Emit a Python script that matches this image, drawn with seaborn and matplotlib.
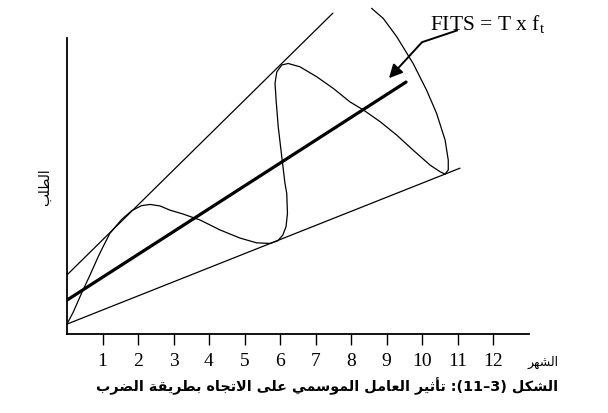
import re
import pandas as pd
import matplotlib
matplotlib.use("Agg")
import matplotlib.pyplot as plt
import seaborn as sns

# months on the x axis
months = list(range(1, 13))

# straight lines: (month, demand) at both ends
upper_x = [0.0, 7.49]
upper_y = [19.7, 107.0]
lower_x = [0.0, 11.07]
lower_y = [3.3, 55.3]
trend_x = [0.0, 9.55]
trend_y = [11.3, 84.0]

# seasonal (multiplicative) curve, hand-drawn in the original
wave_x = [0.00, 0.18, 0.41, 0.65, 0.88, 1.02, 1.21, 1.54, 1.82, 2.10, 2.34, 2.62, 2.90,
          3.27, 3.75, 4.31, 4.87, 5.34, 5.72, 5.94, 6.08, 6.17, 6.21, 6.19, 6.14,
          6.05, 5.95, 5.89, 5.86, 5.91, 6.05, 6.23, 6.56, 7.03, 7.50, 7.97, 8.35,
          8.82, 9.29, 9.75, 10.23, 10.51, 10.65, 10.74, 10.74, 10.65, 10.41, 10.13,
          9.75, 9.29, 8.91, 8.58]
wave_y = [3.3, 7.4, 13.6, 19.7, 25.8, 29.2, 33.6, 38.2, 41.1, 42.8, 43.2, 42.7, 41.3,
          40.0, 38.0, 34.7, 32.0, 30.4, 30.2, 31.1, 33.0, 35.8, 40.2, 46.9, 50.2,
          59.1, 69.1, 78.0, 83.6, 87.4, 89.7, 90.2, 89.1, 85.8, 81.9, 77.4, 74.7,
          70.8, 66.3, 61.3, 56.3, 54.1, 53.3, 54.7, 58.0, 64.7, 73.6, 81.3,
          90.2, 99.1, 105.2, 108.6]

# annotation arrow: text end -> bend -> tip
arrow_x = [11.01, 10.00, 9.07]
arrow_y = [101.3, 97.3, 85.3]

fits_label = r"FITS = T x f$_{\mathregular{t}}$"
x_title = "الشهر"
y_title = "الطلب"
caption = "الشكل (3–11): تأثير العامل الموسمي على الاتجاه بطريقة الضرب"

# --- minimal Arabic shaping (matplotlib has no complex text layout) ---
FORMS = {
    'ا': (0xFE8D, 0xFE8E, None, None), 'أ': (0xFE83, 0xFE84, None, None),
    'ب': (0xFE8F, 0xFE90, 0xFE91, 0xFE92), 'ة': (0xFE93, 0xFE94, None, None),
    'ت': (0xFE95, 0xFE96, 0xFE97, 0xFE98), 'ث': (0xFE99, 0xFE9A, 0xFE9B, 0xFE9C),
    'ج': (0xFE9D, 0xFE9E, 0xFE9F, 0xFEA0), 'د': (0xFEA9, 0xFEAA, None, None),
    'ر': (0xFEAD, 0xFEAE, None, None), 'س': (0xFEB1, 0xFEB2, 0xFEB3, 0xFEB4),
    'ش': (0xFEB5, 0xFEB6, 0xFEB7, 0xFEB8), 'ض': (0xFEBD, 0xFEBE, 0xFEBF, 0xFEC0),
    'ط': (0xFEC1, 0xFEC2, 0xFEC3, 0xFEC4), 'ع': (0xFEC9, 0xFECA, 0xFECB, 0xFECC),
    'ق': (0xFED5, 0xFED6, 0xFED7, 0xFED8), 'ك': (0xFED9, 0xFEDA, 0xFEDB, 0xFEDC),
    'ل': (0xFEDD, 0xFEDE, 0xFEDF, 0xFEE0), 'م': (0xFEE1, 0xFEE2, 0xFEE3, 0xFEE4),
    'ه': (0xFEE9, 0xFEEA, 0xFEEB, 0xFEEC), 'و': (0xFEED, 0xFEEE, None, None),
    'ى': (0xFEEF, 0xFEF0, None, None), 'ي': (0xFEF1, 0xFEF2, 0xFEF3, 0xFEF4),
}
LAM_ALEF = {'ا': (0xFEFB, 0xFEFC), 'أ': (0xFEF7, 0xFEF8)}


def joins_next(c):
    return c in FORMS and FORMS[c][2] is not None


def shape_ar(text):
    out = []
    i = 0
    while i < len(text):
        c = text[i]
        if c not in FORMS:
            out.append(c)
            i += 1
            continue
        pj = i > 0 and joins_next(text[i - 1])
        if c == 'ل' and i + 1 < len(text) and text[i + 1] in LAM_ALEF:
            iso, fin = LAM_ALEF[text[i + 1]]
            out.append(chr(fin if pj else iso))
            i += 2
            continue
        nj = joins_next(c) and i + 1 < len(text) and text[i + 1] in FORMS
        iso, fin, ini, med = FORMS[c]
        code = med if (pj and nj) else fin if pj else ini if nj else iso
        out.append(chr(code))
        i += 1
    s = ''.join(out)[::-1]
    s = re.sub(r'\d+', lambda m: m.group(0)[::-1], s)
    return s.translate(str.maketrans('()', ')('))


sns.set_style("white")
plt.rcParams['font.family'] = ['DejaVu Sans']
plt.rcParams['text.color'] = 'black'
plt.rcParams['xtick.color'] = 'black'
plt.rcParams['mathtext.fontset'] = 'custom'
plt.rcParams['mathtext.rm'] = 'Liberation Serif'

fig = plt.figure(figsize=(6.08, 4.13), dpi=100)
ax = fig.add_axes([67 / 608, 79 / 413, 461.5 / 608, 329 / 413])

thin = 0.9
sns.lineplot(x=upper_x, y=upper_y, ax=ax, color='black', lw=thin)
sns.lineplot(x=lower_x, y=lower_y, ax=ax, color='black', lw=thin)
sns.lineplot(x=trend_x, y=trend_y, ax=ax, color='black', lw=2.3)
wave = pd.DataFrame({'month': wave_x, 'demand': wave_y})
sns.lineplot(data=wave, x='month', y='demand', ax=ax, color='black', lw=thin,
             sort=False, estimator=None, solid_joinstyle='round')

# arrow from the label to the trend line
ax.plot(arrow_x[:2], arrow_y[:2], color='black', lw=1.4, solid_capstyle='butt')
ax.annotate("", xy=(arrow_x[2], arrow_y[2]), xytext=(arrow_x[1], arrow_y[1]),
            arrowprops=dict(arrowstyle='-|>', color='black', lw=1.4,
                            mutation_scale=20, shrinkA=0, shrinkB=0))
ax.text(10.23, 101.3, fits_label, fontsize=15.5, family='Liberation Serif',
        color='black', va='baseline', ha='left', clip_on=False)

ax.set_xlim(0, 13)
ax.set_ylim(0, 109.7)
ax.set_xticks(months)
ax.set_xticklabels([str(m) for m in months], family='Liberation Serif',
                   fontsize=14, color='black')
ax.set_yticks([])
ax.set_xlabel("")
ax.set_ylabel("")
ax.tick_params(axis='x', direction='out', length=8, width=1, pad=6,
               bottom=True, color='black')
for side in ['top', 'right']:
    ax.spines[side].set_visible(False)
for side in ['left', 'bottom']:
    ax.spines[side].set_color('black')
    ax.spines[side].set_linewidth(1.3)
ax.spines['left'].set_bounds(0, 98.7)

fig.text(543 / 608, 1 - 362 / 413, shape_ar(x_title), fontsize=9,
         ha='center', va='center', color='black')
fig.text(45 / 608, 1 - 187 / 413, shape_ar(y_title), fontsize=10,
         rotation=90, ha='center', va='center', color='black')
fig.text(327 / 608, 1 - 386 / 413, shape_ar(caption), fontsize=10.4,
         fontweight='bold', ha='center', va='center', color='black')

fig.savefig("out.png", dpi=100, facecolor='white')
